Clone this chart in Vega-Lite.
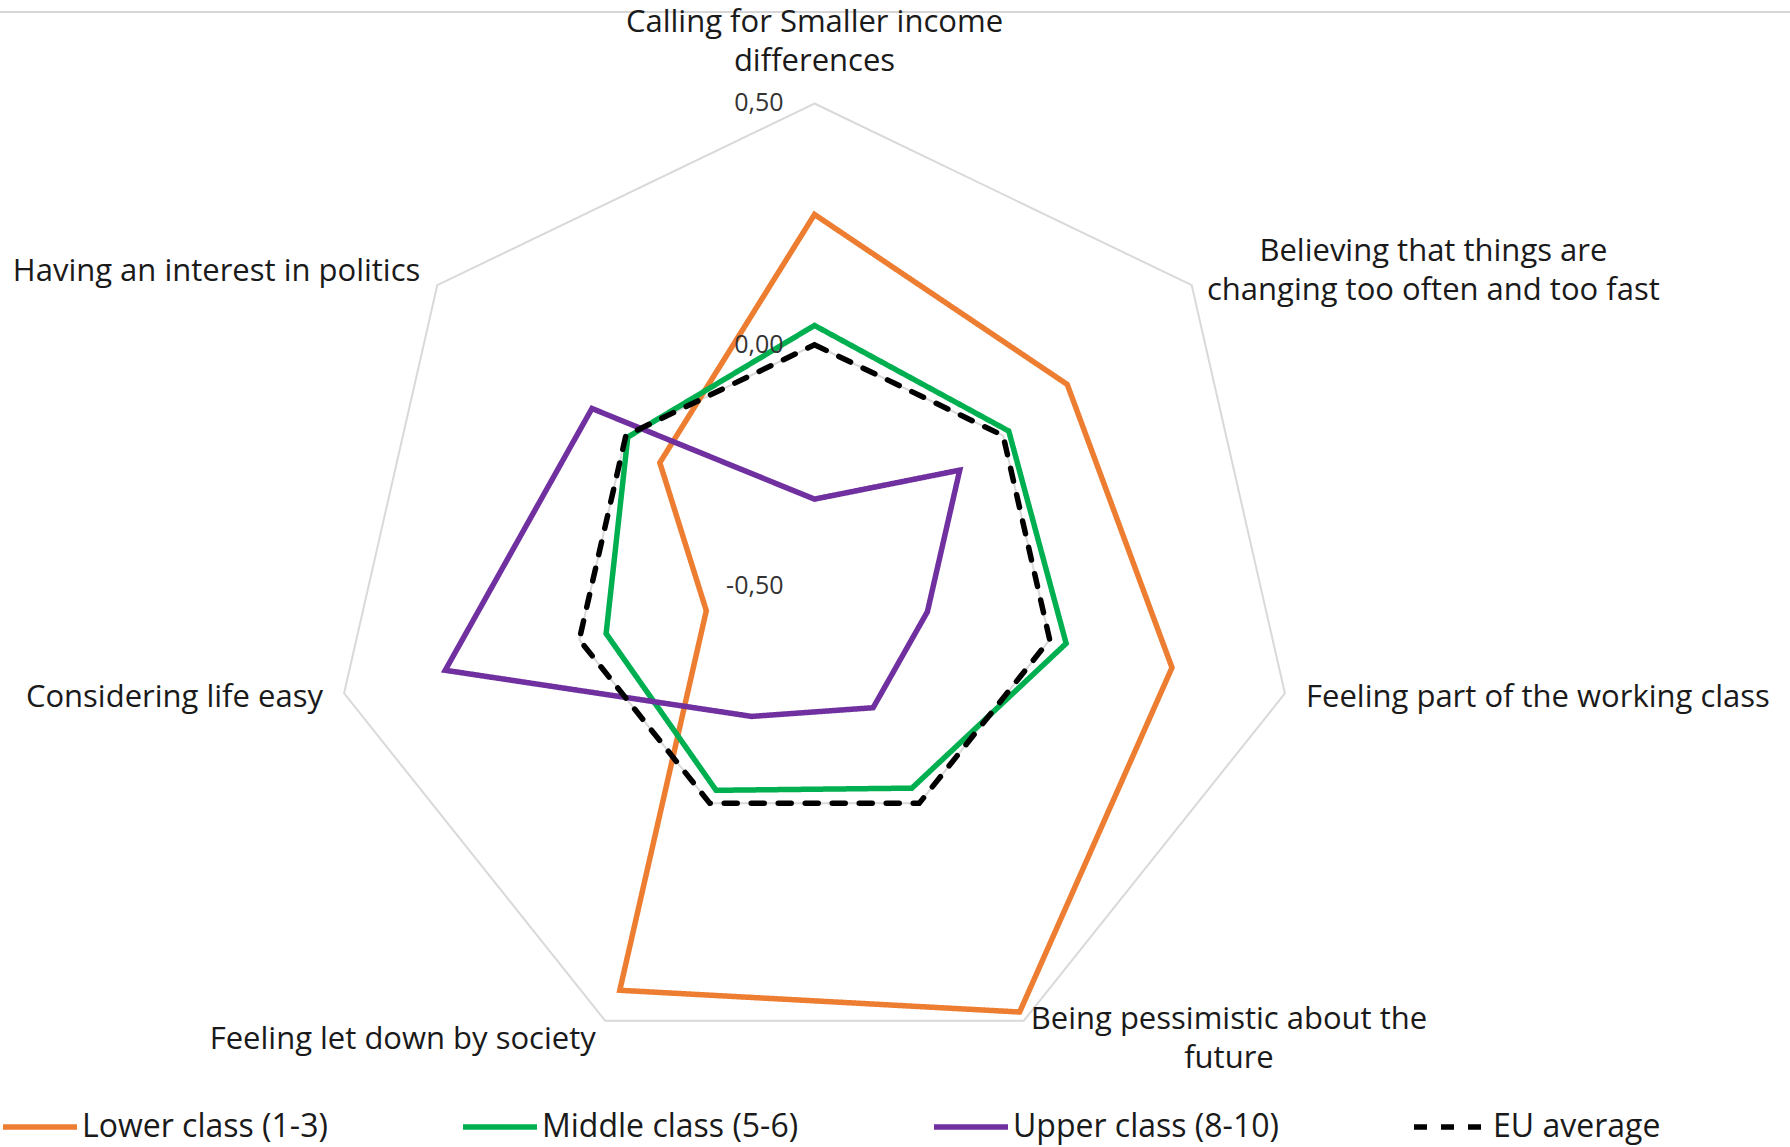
{
  "$schema": "https://vega.github.io/schema/vega-lite/v6.json",
  "width": 1790,
  "height": 1147,
  "padding": 0,
  "autosize": {"type": "none"},
  "background": "white",
  "config": {"view": {"stroke": null}},
  "datasets": {
    "axes": [
      {"idx": 0, "axis": "Calling for Smaller income\ndifferences"},
      {"idx": 1, "axis": "Believing that things are\nchanging too often and too fast"},
      {"idx": 2, "axis": "Feeling part of the working class"},
      {"idx": 3, "axis": "Being pessimistic about the\nfuture"},
      {"idx": 4, "axis": "Feeling let down by society"},
      {"idx": 5, "axis": "Considering life easy"},
      {"idx": 6, "axis": "Having an interest in politics"}
    ],
    "rings": [
      {"ring": 0.5, "idx": 0}, {"ring": 0.5, "idx": 1}, {"ring": 0.5, "idx": 2}, {"ring": 0.5, "idx": 3},
      {"ring": 0.5, "idx": 4}, {"ring": 0.5, "idx": 5}, {"ring": 0.5, "idx": 6},
      {"ring": 0.0, "idx": 0}, {"ring": 0.0, "idx": 1}, {"ring": 0.0, "idx": 2}, {"ring": 0.0, "idx": 3},
      {"ring": 0.0, "idx": 4}, {"ring": 0.0, "idx": 5}, {"ring": 0.0, "idx": 6}
    ],
    "ticks": [
      {"tick": 0.5, "label": "0,50"},
      {"tick": 0.0, "label": "0,00"},
      {"tick": -0.5, "label": "-0,50"}
    ],
    "series": [
      {"group": "Lower class (1-3)", "idx": 0, "value": 0.27},
      {"group": "Lower class (1-3)", "idx": 1, "value": 0.17},
      {"group": "Lower class (1-3)", "idx": 2, "value": 0.26},
      {"group": "Lower class (1-3)", "idx": 3, "value": 0.48},
      {"group": "Lower class (1-3)", "idx": 4, "value": 0.43},
      {"group": "Lower class (1-3)", "idx": 5, "value": -0.27},
      {"group": "Lower class (1-3)", "idx": 6, "value": -0.09},
      {"group": "Middle class (5-6)", "idx": 0, "value": 0.04},
      {"group": "Middle class (5-6)", "idx": 1, "value": 0.015},
      {"group": "Middle class (5-6)", "idx": 2, "value": 0.035},
      {"group": "Middle class (5-6)", "idx": 3, "value": -0.035},
      {"group": "Middle class (5-6)", "idx": 4, "value": -0.03},
      {"group": "Middle class (5-6)", "idx": 5, "value": -0.057},
      {"group": "Middle class (5-6)", "idx": 6, "value": -0.005},
      {"group": "Upper class (8-10)", "idx": 0, "value": -0.32},
      {"group": "Upper class (8-10)", "idx": 1, "value": -0.115},
      {"group": "Upper class (8-10)", "idx": 2, "value": -0.26},
      {"group": "Upper class (8-10)", "idx": 3, "value": -0.22},
      {"group": "Upper class (8-10)", "idx": 4, "value": -0.2},
      {"group": "Upper class (8-10)", "idx": 5, "value": 0.285},
      {"group": "Upper class (8-10)", "idx": 6, "value": 0.09},
      {"group": "EU average", "idx": 0, "value": 0},
      {"group": "EU average", "idx": 1, "value": 0},
      {"group": "EU average", "idx": 2, "value": 0},
      {"group": "EU average", "idx": 3, "value": 0},
      {"group": "EU average", "idx": 4, "value": 0},
      {"group": "EU average", "idx": 5, "value": 0},
      {"group": "EU average", "idx": 6, "value": 0}
    ]
  },
  "layer": [
    {
      "data": {"name": "rings"},
      "transform": [
        {"calculate": "datum.idx * 2 * PI / 7", "as": "ang"},
        {"calculate": "(datum.ring + 0.5) * sin(datum.ang)", "as": "px"},
        {"calculate": "(datum.ring + 0.5) * cos(datum.ang)", "as": "py"}
      ],
      "mark": {"type": "line", "interpolate": "linear-closed", "stroke": "#d9d9d9", "strokeWidth": 2},
      "encoding": {
        "x": {"field": "px", "type": "quantitative", "scale": {"domain": [-1.6881, 2.0218], "nice": false, "zero": false}, "axis": null},
        "y": {"field": "py", "type": "quantitative", "scale": {"domain": [-1.1627, 1.2145], "nice": false, "zero": false}, "axis": null},
        "detail": {"field": "ring", "type": "nominal"},
        "order": {"field": "idx", "type": "quantitative"}
      }
    },
    {
      "data": {"name": "ticks"},
      "mark": {"type": "rule", "stroke": "#c8c8c8", "strokeWidth": 1.5},
      "transform": [{"filter": "datum.tick == 0.5"}],
      "encoding": {
        "y": {"datum": 1.1896, "type": "quantitative", "scale": {"domain": [-1.1627, 1.2145], "nice": false, "zero": false}, "axis": null}
      }
    },
    {
      "data": {"name": "series"},
      "transform": [
        {"calculate": "datum.idx * 2 * PI / 7", "as": "ang"},
        {"calculate": "(datum.value + 0.5) * sin(datum.ang)", "as": "px"},
        {"calculate": "(datum.value + 0.5) * cos(datum.ang)", "as": "py"}
      ],
      "mark": {"type": "line", "interpolate": "linear-closed", "strokeWidth": 5.5, "strokeCap": "round"},
      "encoding": {
        "x": {"field": "px", "type": "quantitative", "scale": {"domain": [-1.6881, 2.0218], "nice": false, "zero": false}, "axis": null},
        "y": {"field": "py", "type": "quantitative", "scale": {"domain": [-1.1627, 1.2145], "nice": false, "zero": false}, "axis": null},
        "order": {"field": "idx", "type": "quantitative"},
        "color": {
          "field": "group", "type": "nominal",
          "scale": {"domain": ["Lower class (1-3)", "Middle class (5-6)", "Upper class (8-10)", "EU average"], "range": ["#ED7D31", "#00B050", "#7030A0", "#000000"]},
          "legend": {
            "title": null, "orient": "none", "legendX": 0, "legendY": 1087, "direction": "horizontal", "columns": 4,
            "gridAlign": "none", "columnPadding": 124, "padding": 0,
            "symbolType": "stroke", "symbolSize": 5476, "symbolStrokeWidth": 5.5, "labelOffset": 2,
            "labelFont": "Open Sans", "labelFontSize": 32, "labelColor": "#1a1a1a", "labelLimit": 0
          }
        },
        "strokeDash": {
          "field": "group", "type": "nominal",
          "scale": {"domain": ["Lower class (1-3)", "Middle class (5-6)", "Upper class (8-10)", "EU average"], "range": [[1, 0], [1, 0], [1, 0], [13, 14]]},
          "legend": {
            "title": null, "orient": "none", "legendX": 0, "legendY": 1087, "direction": "horizontal", "columns": 4,
            "gridAlign": "none", "columnPadding": 124, "padding": 0,
            "symbolType": "stroke", "symbolSize": 5476, "symbolStrokeWidth": 5.5, "labelOffset": 2,
            "labelFont": "Open Sans", "labelFontSize": 32, "labelColor": "#1a1a1a", "labelLimit": 0
          }
        }
      }
    },
    {
      "data": {"name": "ticks"},
      "transform": [
        {"calculate": "0", "as": "px"},
        {"calculate": "datum.tick + 0.5", "as": "py"}
      ],
      "mark": {"type": "text", "align": "right", "baseline": "middle", "dx": -31, "font": "Open Sans", "fontSize": 25, "color": "#333333"},
      "encoding": {
        "x": {"field": "px", "type": "quantitative", "scale": {"domain": [-1.6881, 2.0218], "nice": false, "zero": false}, "axis": null},
        "y": {"field": "py", "type": "quantitative", "scale": {"domain": [-1.1627, 1.2145], "nice": false, "zero": false}, "axis": null},
        "text": {"field": "label"}
      }
    },
    {
      "data": {"name": "axes"},
      "transform": [
        {"filter": "datum.idx == 0"},
        {"calculate": "datum.idx * 2 * PI / 7", "as": "ang"},
        {"calculate": "1.125 * sin(datum.ang)", "as": "px"},
        {"calculate": "1.125 * cos(datum.ang)", "as": "py"}
      ],
      "mark": {"type": "text", "align": "center", "baseline": "middle", "dy": -20, "lineBreak": "\n", "lineHeight": 39, "font": "Open Sans", "fontSize": 31, "color": "#1a1a1a"},
      "encoding": {
        "x": {"field": "px", "type": "quantitative", "scale": {"domain": [-1.6881, 2.0218], "nice": false, "zero": false}, "axis": null},
        "y": {"field": "py", "type": "quantitative", "scale": {"domain": [-1.1627, 1.2145], "nice": false, "zero": false}, "axis": null},
        "text": {"field": "axis"}
      }
    },
    {
      "data": {"name": "axes"},
      "transform": [
        {"filter": "datum.idx == 1 || datum.idx == 3"},
        {"calculate": "datum.idx * 2 * PI / 7", "as": "ang"},
        {"calculate": "split(datum.axis, '\\n')", "as": "lines"},
        {"calculate": "max(length(datum.lines[0]), length(datum.lines[1]))", "as": "maxlen"},
        {"calculate": "1.045 * sin(datum.ang) + 0.01502 * datum.maxlen", "as": "px"},
        {"calculate": "1.045 * cos(datum.ang)", "as": "py"}
      ],
      "mark": {"type": "text", "align": "center", "baseline": "middle", "dy": -20, "lineBreak": "\n", "lineHeight": 39, "font": "Open Sans", "fontSize": 31, "color": "#1a1a1a"},
      "encoding": {
        "x": {"field": "px", "type": "quantitative", "scale": {"domain": [-1.6881, 2.0218], "nice": false, "zero": false}, "axis": null},
        "y": {"field": "py", "type": "quantitative", "scale": {"domain": [-1.1627, 1.2145], "nice": false, "zero": false}, "axis": null},
        "text": {"field": "axis"}
      }
    },
    {
      "data": {"name": "axes"},
      "transform": [
        {"filter": "datum.idx == 2"},
        {"calculate": "datum.idx * 2 * PI / 7", "as": "ang"},
        {"calculate": "1.045 * sin(datum.ang)", "as": "px"},
        {"calculate": "1.045 * cos(datum.ang)", "as": "py"}
      ],
      "mark": {"type": "text", "align": "left", "baseline": "middle", "font": "Open Sans", "fontSize": 31, "color": "#1a1a1a"},
      "encoding": {
        "x": {"field": "px", "type": "quantitative", "scale": {"domain": [-1.6881, 2.0218], "nice": false, "zero": false}, "axis": null},
        "y": {"field": "py", "type": "quantitative", "scale": {"domain": [-1.1627, 1.2145], "nice": false, "zero": false}, "axis": null},
        "text": {"field": "axis"}
      }
    },
    {
      "data": {"name": "axes"},
      "transform": [
        {"filter": "datum.idx >= 4"},
        {"calculate": "datum.idx * 2 * PI / 7", "as": "ang"},
        {"calculate": "1.045 * sin(datum.ang)", "as": "px"},
        {"calculate": "1.045 * cos(datum.ang)", "as": "py"}
      ],
      "mark": {"type": "text", "align": "right", "baseline": "middle", "font": "Open Sans", "fontSize": 31, "color": "#1a1a1a"},
      "encoding": {
        "x": {"field": "px", "type": "quantitative", "scale": {"domain": [-1.6881, 2.0218], "nice": false, "zero": false}, "axis": null},
        "y": {"field": "py", "type": "quantitative", "scale": {"domain": [-1.1627, 1.2145], "nice": false, "zero": false}, "axis": null},
        "text": {"field": "axis"}
      }
    }
  ]
}
